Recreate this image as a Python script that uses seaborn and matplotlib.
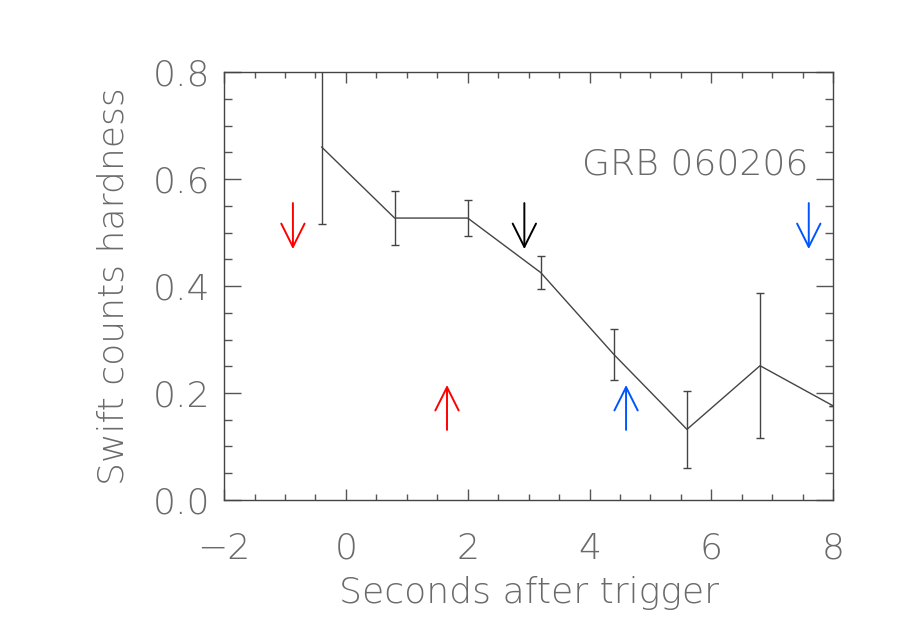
import matplotlib
matplotlib.use('Agg')
import matplotlib.pyplot as plt
import pandas as pd
import seaborn as sns
from matplotlib.ticker import MultipleLocator

# hardness ratio vs time
t = [-0.4, 0.8, 2.0, 3.2, 4.4, 5.6, 6.8, 8.0]
hardness = [0.66, 0.527, 0.527, 0.425, 0.272, 0.132, 0.251, 0.176]
hard_err = [0.145, 0.051, 0.033, 0.031, 0.048, 0.072, 0.135, 0.0]

# arrows: x, tail y, tip y, colour
arrow_x = [-0.87, 1.66, 2.93, 4.6, 7.6]
arrow_tail = [0.555, 0.131, 0.555, 0.131, 0.555]
arrow_tip = [0.469, 0.215, 0.469, 0.215, 0.469]
arrow_col = ['#ff0000', '#ff0000', '#000000', '#0055ff', '#0055ff']

df = pd.DataFrame({'t': t, 'hardness': hardness, 'err': hard_err})

sns.set_style('ticks')
plt.rcParams['font.family'] = ['DejaVu Sans']
plt.rcParams['font.weight'] = 200
plt.rcParams['axes.labelweight'] = 200
txtcol = '#6a6a6a'
fs = 26

fig = plt.figure(figsize=(9, 6.43), dpi=100)
ax = fig.add_axes([0.249, 0.2224, 0.6767, 0.6656])

sns.lineplot(data=df, x='t', y='hardness', ax=ax, color='#444444', lw=1.0)
ax.errorbar(df['t'], df['hardness'], yerr=df['err'], fmt='none',
            ecolor='#444444', elinewidth=1.0, capsize=3, capthick=1.0)

for x, y0, y1, c in zip(arrow_x, arrow_tail, arrow_tip, arrow_col):
    ax.annotate('', xy=(x, y1), xytext=(x, y0),
                arrowprops=dict(arrowstyle='->', color=c, lw=1.4,
                                mutation_scale=42, shrinkA=0, shrinkB=0))

ax.text(7.6, 0.628, 'GRB 060206', ha='right', va='center', fontsize=fs,
        color=txtcol)

ax.set_xlim(-2, 8)
ax.set_ylim(0, 0.8)
ax.xaxis.set_major_locator(MultipleLocator(2))
ax.xaxis.set_minor_locator(MultipleLocator(0.5))
ax.yaxis.set_major_locator(MultipleLocator(0.2))
ax.yaxis.set_minor_locator(MultipleLocator(0.05))
ax.tick_params(axis='both', which='both', direction='in', top=True,
               right=True, colors='#555555', labelcolor=txtcol,
               labelsize=fs, width=1.0)
ax.tick_params(axis='x', which='major', length=8, pad=23)
ax.tick_params(axis='x', which='minor', length=4)
ax.tick_params(axis='y', which='major', length=12, pad=10)
ax.tick_params(axis='y', which='minor', length=6)
ax.set_yticklabels(['%.1f' % v for v in ax.get_yticks()])
ax.xaxis.set_major_formatter(matplotlib.ticker.FuncFormatter(
    lambda v, p: ('\u2212%d' % -v) if v < 0 else '%d' % v))

for s in ax.spines.values():
    s.set_color('#444444')
    s.set_linewidth(1.0)

ax.set_xlabel('Seconds after trigger', fontsize=fs, color=txtcol, labelpad=7)
ax.set_ylabel('Swift counts hardness', fontsize=fs, color=txtcol, labelpad=16)

fig.savefig('out.png', dpi=100)
